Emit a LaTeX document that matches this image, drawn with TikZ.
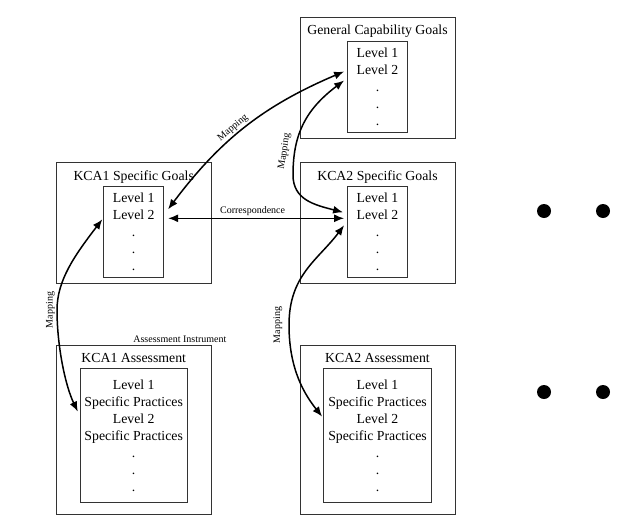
\documentclass[tikz,border=0pt]{standalone}
\usepackage{fontspec}
\setmainfont{Liberation Serif}
\usetikzlibrary{arrows.meta,positioning}

\begin{document}
\begin{tikzpicture}[x=1pt, y=-1pt, node distance=24pt,
    every node/.style={font=\fontsize{13.8}{17}\selectfont},
    outerbox/.style={draw=black!80, line width=0.8pt, minimum width=155pt},
    levelbox/.style={draw=black!80, line width=0.8pt, align=center, inner sep=0pt},
    boxtitle/.style={inner sep=0pt},
    link/.style={{Latex[length=10pt,width=8pt]}-{Latex[length=10pt,width=8pt]}, line width=1.5pt},
    tag/.style={font=\fontsize{10}{12}\selectfont, inner sep=2pt}]
  \useasboundingbox (0,0) rectangle (640,520);

  % goal boxes
  \node[outerbox, minimum height=121pt] (gcg) at (377.5,77.5) {};
  \node[boxtitle, below=8pt of gcg.north] (gcgtitle) {General Capability Goals};
  \node[levelbox, minimum width=60pt, minimum height=91pt, below=24pt of gcg.north] (gcglev) {Level 1\\Level 2\\.\\.\\.};

  \node[outerbox, minimum height=121pt, below=of gcg] (sg2) {};
  \node[boxtitle, below=8pt of sg2.north] (sg2title) {KCA2 Specific Goals};
  \node[levelbox, minimum width=60pt, minimum height=91pt, below=24pt of sg2.north] (sg2lev) {Level 1\\Level 2\\.\\.\\.};

  \node[outerbox, minimum height=121pt, left=88pt of sg2] (sg1) {};
  \node[boxtitle, below=8pt of sg1.north] (sg1title) {KCA1 Specific Goals};
  \node[levelbox, minimum width=60pt, minimum height=91pt, below=24pt of sg1.north] (sg1lev) {Level 1\\Level 2\\.\\.\\.};

  % assessment boxes
  \node[outerbox, minimum height=169pt, below=61pt of sg2] (as2) {};
  \node[boxtitle, below=8pt of as2.north] (as2title) {KCA2 Assessment};
  \node[levelbox, minimum width=108pt, minimum height=134pt, below=23pt of as2.north] (as2lev) {Level 1\\Specific Practices\\Level 2\\Specific Practices\\.\\.\\.};

  \node[outerbox, minimum height=169pt, left=88pt of as2] (as1) {};
  \node[boxtitle, below=8pt of as1.north] (as1title) {KCA1 Assessment};
  \node[levelbox, minimum width=107pt, minimum height=134pt, below=23pt of as1.north] (as1lev) {Level 1\\Specific Practices\\Level 2\\Specific Practices\\.\\.\\.};
  \node[tag, anchor=south east] (instr) at ([xshift=17pt]as1.north east) {Assessment Instrument};

  % more areas
  \foreach \x/\y [count=\i] in {544/211, 603/211, 544/392, 603/392}
    \node[circle, fill, inner sep=0pt, minimum size=14pt] (dot\i) at (\x,\y) {};

  % links
  \draw[link] ([xshift=4pt,yshift=23pt]sg1lev.east) to[bend left=15]
    node[tag, pos=0.45, sloped, above] {Mapping} ([xshift=-3pt,yshift=15pt]gcglev.west);
  \draw[link] ([xshift=-3pt,yshift=6pt]gcglev.west) .. controls (305,110) and (293,135) .. (293,175)
    node[tag, pos=0.8, sloped, above=3pt] {Mapping}
    .. controls (293,200) and (315,205) .. ([xshift=-4pt,yshift=20pt]sg2lev.west);
  \draw[link] ([xshift=4pt,yshift=14pt]sg1lev.east) --
    node[tag, pos=0.48, above] {Correspondence} ([xshift=-3pt,yshift=14pt]sg2lev.west);
  \draw[link] ([xshift=-1pt,yshift=13pt]sg1lev.west) .. controls (75,255) and (57,280) .. (57,310)
    node[tag, pos=1, rotate=90, anchor=south, inner ysep=1.5pt] {Mapping}
    .. controls (57,345) and (65,385) .. ([xshift=-2pt,yshift=24pt]as1lev.west);
  \draw[link] ([xshift=-3pt,yshift=7pt]sg2lev.west) .. controls (318,260) and (289,275) .. (289,325)
    node[tag, pos=1, rotate=90, anchor=south, inner ysep=6pt] {Mapping}
    .. controls (289,370) and (305,395) .. ([xshift=-1pt,yshift=19pt]as2lev.west);
\end{tikzpicture}
\end{document}
